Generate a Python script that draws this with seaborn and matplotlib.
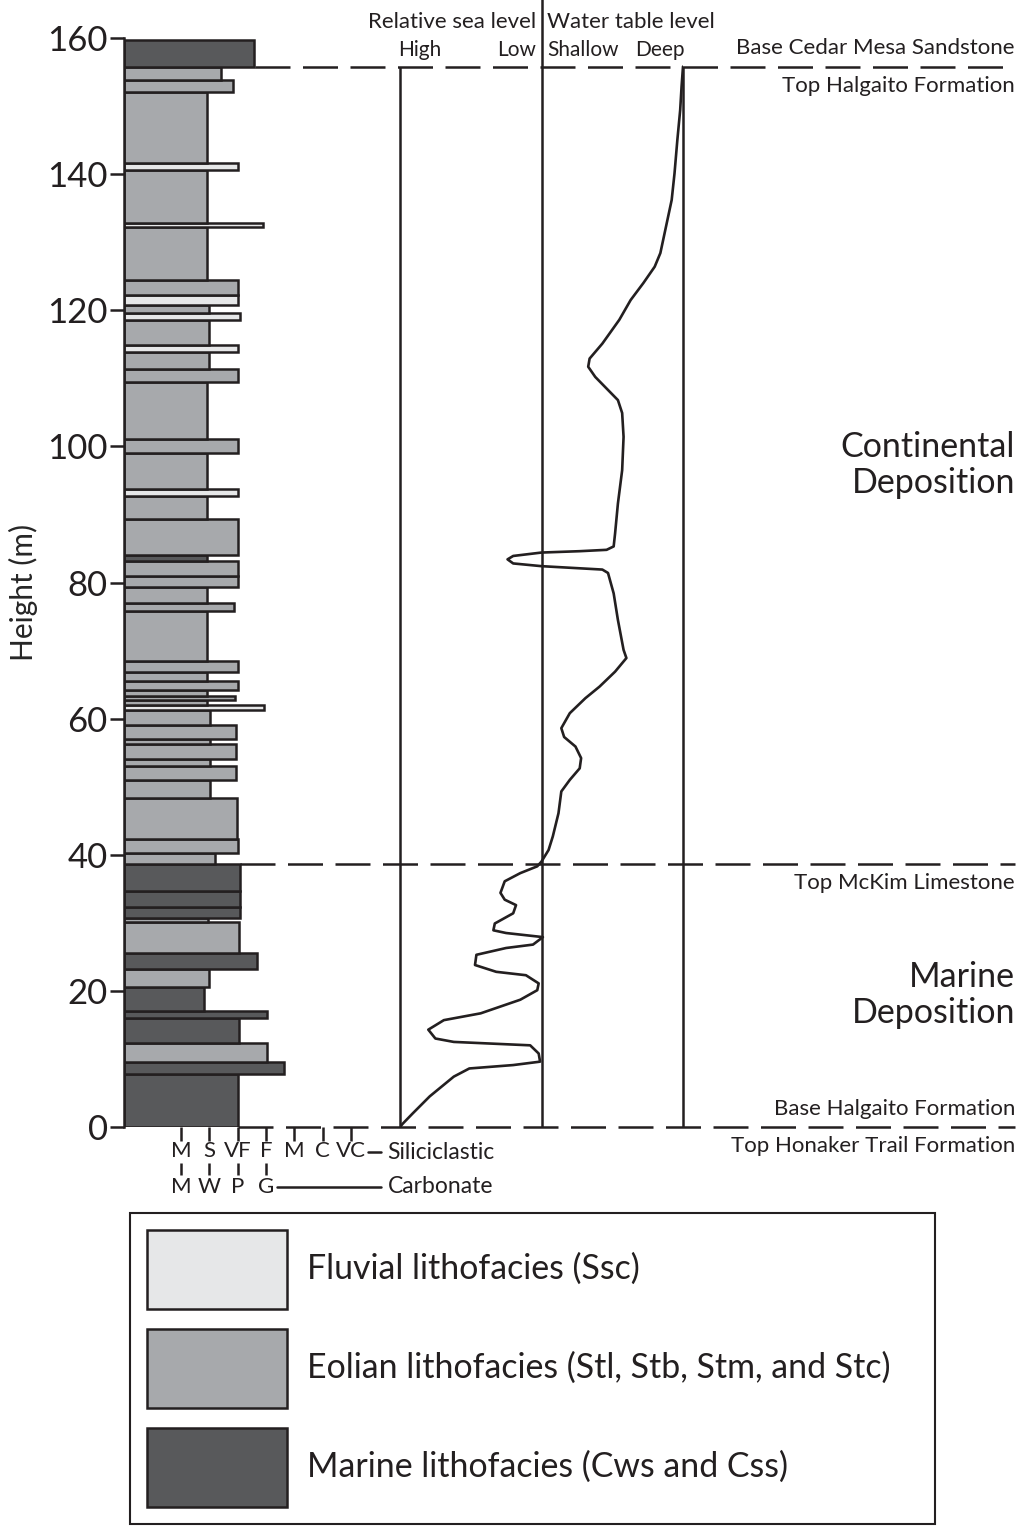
import numpy as np
import pandas as pd
import matplotlib
matplotlib.use("Agg")
import matplotlib.pyplot as plt
from matplotlib.patches import Patch
import seaborn as sns

# Bed data: base height (m), top height (m), grain size index, facies
bed_base = [0.0, 7.8, 9.6, 12.3, 16.0, 17.0, 20.6, 23.2, 25.5, 30.1, 30.7, 32.3, 34.7,
            38.6, 40.2, 42.3, 48.4, 51.0, 53.1, 54.0, 56.2, 57.0, 59.0, 61.3, 62.0, 62.7,
            63.3, 64.2, 65.5, 66.9, 68.4, 75.8, 77.0, 79.4, 80.9, 83.2, 84.0, 89.3, 92.7,
            93.8, 99.1, 101.1, 109.4, 111.4, 113.8, 114.9, 118.5, 119.6, 120.7, 122.2,
            124.5, 132.2, 132.8, 140.6, 141.7, 152.0, 153.8, 155.8]
bed_top = [7.8, 9.6, 12.3, 16.0, 17.0, 20.6, 23.2, 25.5, 30.1, 30.7, 32.3, 34.7, 38.6,
           40.2, 42.3, 48.4, 51.0, 53.1, 54.0, 56.2, 57.0, 59.0, 61.3, 62.0, 62.7, 63.3,
           64.2, 65.5, 66.9, 68.4, 75.8, 77.0, 79.4, 80.9, 83.2, 84.0, 89.3, 92.7, 93.8,
           99.1, 101.1, 109.4, 111.4, 113.8, 114.9, 118.5, 119.6, 120.7, 122.2, 124.5,
           132.2, 132.8, 140.6, 141.7, 152.0, 153.8, 155.7, 159.7]
bed_grain = [4.0, 5.64, 5.05, 4.06, 5.03, 2.81, 3.0, 4.7, 4.05, 2.96, 4.08, 4.08, 4.08,
             3.2, 4.0, 3.97, 3.02, 3.95, 3.02, 3.95, 3.02, 3.93, 3.02, 4.94, 2.93, 3.9,
             2.93, 4.03, 2.93, 4.03, 2.93, 3.87, 2.93, 4.0, 4.0, 2.93, 4.0, 2.93, 4.0,
             2.93, 4.0, 2.93, 4.0, 3.0, 4.0, 3.0, 4.08, 3.0, 4.0, 4.0,
             2.92, 4.9, 2.92, 4.0, 2.92, 3.84, 3.4, 4.58]
bed_facies = ["M", "M", "E", "M", "M", "M", "E", "M", "E", "E", "M", "M", "M",
              "E", "E", "E", "E", "E", "E", "E", "E", "E", "E", "F", "E", "E",
              "E", "E", "E", "E", "E", "E", "E", "E", "E", "M", "E", "E", "F",
              "E", "E", "E", "E", "E", "F", "E", "F", "E", "F", "E",
              "E", "F", "E", "F", "E", "E", "E", "M"]

# Relative sea level (0 high - 1 low) continuing into water table (1 shallow - 2 deep)
curve_height = [155.8, 152.9, 149.4, 145.0, 140.1, 136.2, 132.3, 128.4, 126.4, 124.0,
                121.5, 118.6, 115.1, 112.9, 111.7, 110.2, 108.5, 106.8, 104.9, 101.4,
                96.5, 91.6, 87.2, 85.3, 84.8, 84.6, 84.4, 83.9, 83.4, 82.8, 82.4, 81.9,
                81.4, 78.4, 74.5, 70.1, 68.9, 66.9, 64.7, 63.0, 60.8, 58.6, 57.3, 55.9,
                54.2, 52.7, 51.0, 49.3, 46.1, 42.7, 40.7, 39.0, 38.3, 37.3, 36.1, 34.4,
                33.4, 32.6, 31.4, 29.9, 28.9, 28.5, 27.9, 26.8, 26.3, 25.3, 23.8, 22.8,
                22.3, 21.1, 20.1, 18.7, 16.7, 15.7, 14.3, 13.0, 12.5, 12.0, 10.8, 9.6,
                9.1, 8.6, 7.4, 4.5, 2.0, 0.5, 0.0]
curve_level = [2.0, 1.99, 1.98, 1.96, 1.94, 1.92, 1.88, 1.84, 1.80, 1.72,
               1.63, 1.55, 1.43, 1.34, 1.33, 1.38, 1.46, 1.54, 1.57, 1.58,
               1.57, 1.54, 1.52, 1.51, 1.46, 1.27, 1.0, 0.80, 0.76, 0.80, 1.0, 1.43,
               1.47, 1.51, 1.54, 1.58, 1.60, 1.52, 1.41, 1.31, 1.20, 1.14, 1.16, 1.24,
               1.28, 1.27, 1.20, 1.14, 1.12, 1.08, 1.05, 1.0, 0.97, 0.85, 0.74, 0.71,
               0.74, 0.82, 0.80, 0.67, 0.66, 0.75, 1.01, 0.94, 0.75, 0.54, 0.53, 0.68,
               0.89, 0.98, 0.97, 0.85, 0.57, 0.31, 0.20, 0.25, 0.38, 0.92, 0.98, 0.99,
               0.80, 0.49, 0.38, 0.21, 0.09, 0.02, 0.0]

height_ticks = [0, 20, 40, 60, 80, 100, 120, 140, 160]
grain_pos = [2, 3, 4, 5, 6, 7, 8]
grain_labels = ["M", "S", "VF", "F", "M", "C", "VC"]
carb_pos = [2, 3, 4, 5]
carb_labels = ["M", "W", "P", "G"]

boundary_height = [155.8, 38.6, 0.0]
boundary_start = [4.6, 4.1, 4.0]
boundary_upper = ["Base Cedar Mesa Sandstone", "", "Base Halgaito Formation"]
boundary_lower = ["Top Halgaito Formation", "Top McKim Limestone", "Top Honaker Trail Formation"]

facies_names = {"F": "Fluvial lithofacies (Ssc)",
                "E": "Eolian lithofacies (Stl, Stb, Stm, and Stc)",
                "M": "Marine lithofacies (Cws and Css)"}
facies_colors = {"F": "#e6e7e8", "E": "#a7a9ac", "M": "#58595b"}
ink = "#231f20"

beds = pd.DataFrame({"base": bed_base, "top": bed_top, "grain": bed_grain, "facies": bed_facies})
beds["thick"] = beds["top"] - beds["base"]
curve = pd.DataFrame({"height": curve_height, "level": curve_level})

sns.set_theme(style="white")
plt.rcParams["font.family"] = ["Lato", "DejaVu Sans"]
plt.rcParams["text.color"] = ink

W, H = 1023, 1526
fig = plt.figure(figsize=(W / 100, H / 100), dpi=100)
fig.patch.set_facecolor("white")

px_unit = 28.3
x_left = 124.4
x_right = 1015
y0_px, y160_px = 1127, 38
xmax = (x_right - x_left) / px_unit
ax = fig.add_axes([x_left / W, (H - y0_px) / H, (x_right - x_left) / W, (y0_px - y160_px) / H])
ax.set_facecolor("none")

# stratigraphic column
ax.barh(beds["base"], beds["grain"], height=beds["thick"], left=0, align="edge",
        color=[facies_colors[f] for f in beds["facies"]], edgecolor=ink, linewidth=1.8, zorder=3)

ax.set_xlim(0, xmax)
ax.set_ylim(0, 160)
for s in ["top", "right", "bottom"]:
    ax.spines[s].set_visible(False)
ax.spines["left"].set_color(ink)
ax.spines["left"].set_linewidth(1.8)
ax.spines["left"].set_zorder(4)

ax.set_yticks(height_ticks)
ax.set_yticklabels([str(t) for t in height_ticks], fontsize=25)
ax.set_ylabel("Height (m)", fontsize=21.5)
ax.yaxis.set_label_coords(-0.097, 0.491)
ax.set_xticks(grain_pos)
ax.set_xticklabels(grain_labels, fontsize=16)
ax.tick_params(axis="both", direction="out", color=ink, labelcolor=ink, width=1.8, length=10,
               left=True, bottom=True)
ax.tick_params(axis="x", pad=0)
ax.tick_params(axis="y", pad=2)

# carbonate row and scale captions
ax.vlines(carb_pos, -5.3, -7.0, color=ink, linewidth=1.8, clip_on=False)
for p, lab in zip(carb_pos, carb_labels):
    ax.text(p, -8.8, lab, ha="center", va="center", fontsize=16)
ax.plot([8.6, 9.05], [-3.7, -3.7], color=ink, lw=1.8, clip_on=False)
ax.text(9.3, -3.7, "Siliciclastic", ha="left", va="center", fontsize=16.5)
ax.plot([5.4, 9.05], [-8.8, -8.8], color=ink, lw=1.8, clip_on=False)
ax.text(9.3, -8.8, "Carbonate", ha="left", va="center", fontsize=16.5)

# formation boundaries
for h, x0, up, low in zip(boundary_height, boundary_start, boundary_upper, boundary_lower):
    ax.hlines(h, x0, xmax, color=ink, linewidth=1.8, linestyles=(0, (14, 5)), clip_on=False, zorder=2)
    if up:
        ax.text(xmax, h + 2.7, up, ha="right", va="center", fontsize=16)
    ax.text(xmax, h - 2.8, low, ha="right", va="center", fontsize=16)

ax.text(xmax, 97.3, "Continental\nDeposition", ha="right", va="center", fontsize=24.5, linespacing=1.15)
ax.text(xmax, 19.4, "Marine\nDeposition", ha="right", va="center", fontsize=24.5, linespacing=1.15)

# sea level / water table curve
ax2 = fig.add_axes([400 / W, (H - y0_px) / H, 283 / W, (y0_px - y160_px) / H], sharey=ax)
ax2.set_facecolor("none")
ax2.set_xlim(0, 2)
sns.lineplot(data=curve, x="level", y="height", sort=False, estimator=None,
             color=ink, linewidth=1.9, ax=ax2)
ax2.vlines([0, 2], 0, 155.8, color=ink, linewidth=1.8, clip_on=False)
ax2.vlines(1, 0, 177.0, color=ink, linewidth=1.8, clip_on=False)
ax2.axis("off")
ax2.text(0.96, 162.3, "Relative sea level", ha="right", va="center", fontsize=16)
ax2.text(1.04, 162.3, "Water table level", ha="left", va="center", fontsize=16)
ax2.text(0.14, 158.2, "High", ha="center", va="center", fontsize=15)
ax2.text(0.96, 158.2, "Low", ha="right", va="center", fontsize=15)
ax2.text(1.04, 158.2, "Shallow", ha="left", va="center", fontsize=15)
ax2.text(1.84, 158.2, "Deep", ha="center", va="center", fontsize=15)

# legend
handles = [Patch(facecolor=facies_colors[k], edgecolor=ink, linewidth=1.8) for k in ["F", "E", "M"]]
labels = [facies_names[k] for k in ["F", "E", "M"]]
leg = fig.legend(handles, labels, loc="upper left",
                 bbox_to_anchor=(130 / W, 1 - 1213 / H, 805 / W, 0), mode="expand",
                 borderaxespad=0, fontsize=24.4, handlelength=4.13, handleheight=3.2,
                 labelspacing=0.6, borderpad=0.5, handletextpad=0.59,
                 fancybox=False, framealpha=1, edgecolor=ink)
leg.get_frame().set_linewidth(1.5)

fig.savefig("out.png", dpi=100, facecolor="white")
